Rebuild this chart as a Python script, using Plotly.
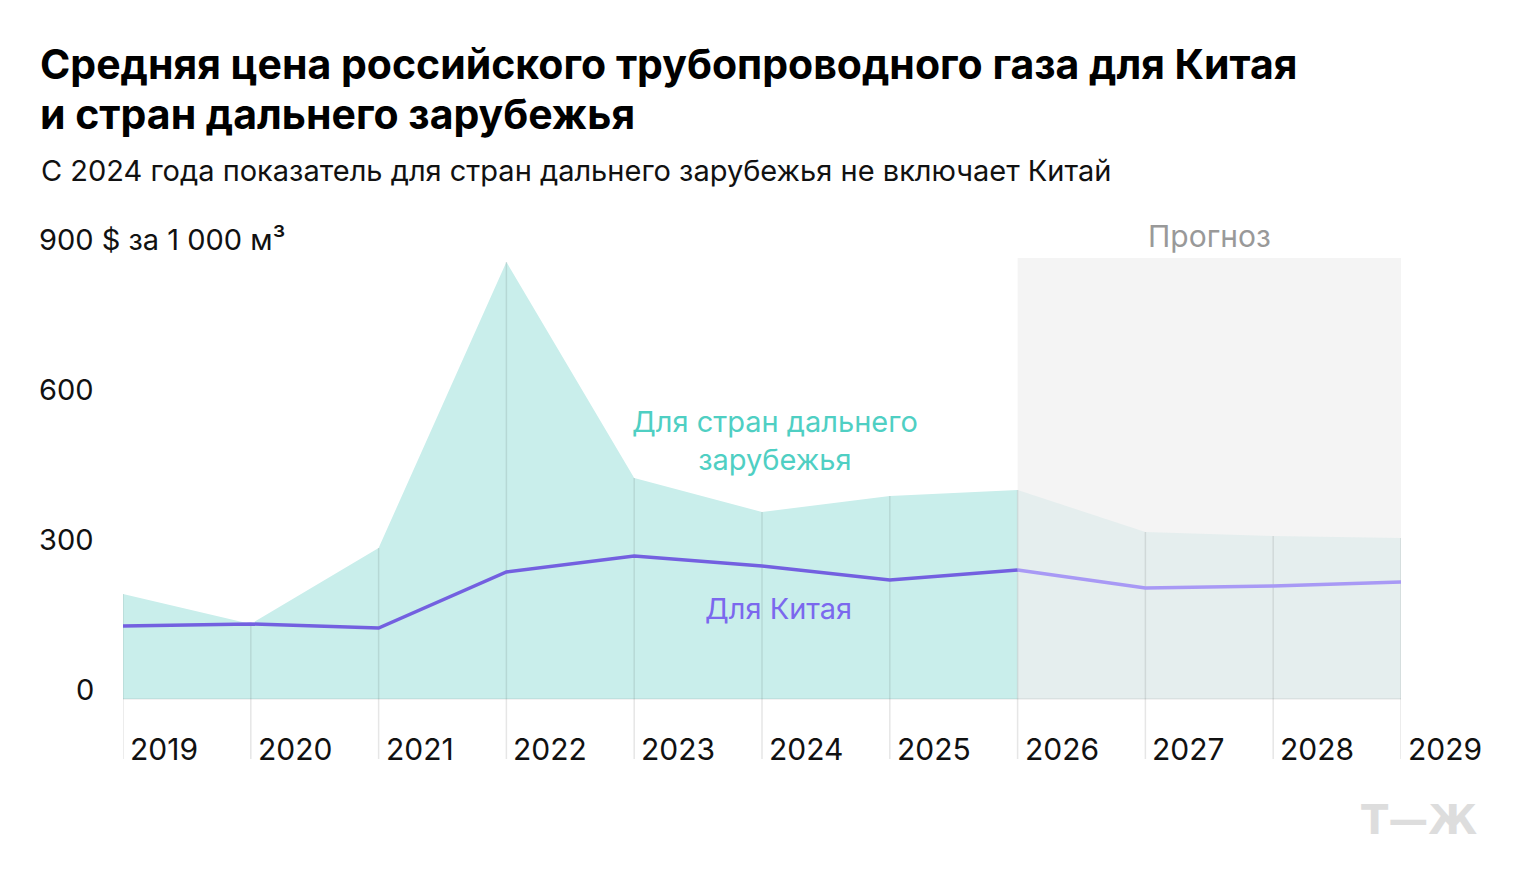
import plotly.graph_objects as go

years = [2019, 2020, 2021, 2022, 2023, 2024, 2025, 2026, 2027, 2028, 2029]
far_abroad = [210, 150, 302, 874, 442, 374, 406, 418, 334, 326, 322]
china = [146, 150, 142, 254, 286, 266, 238, 258, 222, 226, 234]
forecast_start = 2026
y_ticks = [0, 300, 600, 900]
y_tick_labels = ["0", "300", "600", "900 $ за 1 000 м³"]

FONT = "Inter"
TEAL_FILL = "#c9eeeb"
FC_FILL = "#e5eeee"
FC_BOX = "#f4f4f4"
PURPLE = "#7360e0"
PURPLE_FC = "#a899f5"

Y_MIN = -120
FC_TOP = 882

fig = go.Figure()

# forecast background box
fig.add_shape(type="rect", xref="x", yref="y", x0=forecast_start, x1=years[-1],
              y0=0, y1=FC_TOP, fillcolor=FC_BOX, line_width=0, layer="below")

i0 = years.index(forecast_start)
# actual area
fig.add_trace(go.Scatter(x=years[:i0 + 1], y=far_abroad[:i0 + 1], mode="lines",
                         line=dict(width=0, color=TEAL_FILL), fill="tozeroy",
                         fillcolor=TEAL_FILL, hoverinfo="skip", showlegend=False))
# forecast area
fig.add_trace(go.Scatter(x=years[i0:], y=far_abroad[i0:], mode="lines",
                         line=dict(width=0, color=FC_FILL), fill="tozeroy",
                         fillcolor=FC_FILL, hoverinfo="skip", showlegend=False))

# vertical year lines: inside area
vx, vy = [], []
for x, v in zip(years, far_abroad):
    vx += [x, x, None]
    vy += [v, 0, None]
fig.add_trace(go.Scatter(x=vx, y=vy, mode="lines",
                         line=dict(width=1.5, color="rgba(0,0,0,0.09)"),
                         hoverinfo="skip", showlegend=False))
# below axis
bx, by = [], []
for x in years:
    bx += [x, x, None]
    by += [0, Y_MIN, None]
fig.add_trace(go.Scatter(x=bx, y=by, mode="lines",
                         line=dict(width=1.5, color="#e6e6e6"),
                         hoverinfo="skip", showlegend=False))
# baseline
fig.add_trace(go.Scatter(x=[years[0], years[-1]], y=[0, 0], mode="lines",
                         line=dict(width=1.5, color="rgba(0,0,0,0.07)"),
                         hoverinfo="skip", showlegend=False))

# China lines
fig.add_trace(go.Scatter(x=years[i0:], y=china[i0:], mode="lines",
                         line=dict(width=3.5, color=PURPLE_FC),
                         hoverinfo="skip", showlegend=False))
fig.add_trace(go.Scatter(x=years[:i0 + 1], y=china[:i0 + 1], mode="lines",
                         line=dict(width=3.5, color=PURPLE),
                         hoverinfo="skip", showlegend=False))

ann = []
# year labels
for x in years:
    ann.append(dict(x=x, y=-100, xref="x", yref="y", text=str(x), showarrow=False,
                    xanchor="left", yanchor="middle", xshift=5,
                    font=dict(family=FONT, size=30, color="#111")))
# y labels
for v, t in zip(y_ticks, y_tick_labels):
    ann.append(dict(x=0, y=v, xref="paper", yref="y", text=t, showarrow=False,
                    xanchor="right" if v != 900 else "left",
                    xshift=-27 if v != 900 else -86,
                    yanchor="middle", yshift=10,
                    font=dict(family=FONT, size=29, color="#111")))

W, H = 1278, 510
def px_x(p):
    return (p - 123) / W
def px_y(p):
    return (759 - p) / H

ann.append(dict(x=px_x(38), y=px_y(64), xref="paper", yref="paper", showarrow=False,
                xanchor="left", yanchor="middle",
                text="<b>Средняя цена российского трубопроводного газа для Китая</b>",
                font=dict(family=FONT, size=41, color="#000")))
ann.append(dict(x=px_x(38), y=px_y(114), xref="paper", yref="paper", showarrow=False,
                xanchor="left", yanchor="middle",
                text="<b>и стран дальнего зарубежья</b>",
                font=dict(family=FONT, size=41, color="#000")))
ann.append(dict(x=px_x(39), y=px_y(170), xref="paper", yref="paper", showarrow=False,
                xanchor="left", yanchor="middle",
                text="С 2024 года показатель для стран дальнего зарубежья не включает Китай",
                font=dict(family=FONT, size=29, color="#111")))
ann.append(dict(x=(forecast_start + years[-1]) / 2, y=FC_TOP, xref="x", yref="y",
                showarrow=False, xanchor="center", yanchor="bottom", yshift=2, text="Прогноз",
                font=dict(family=FONT, size=30, color="#999")))
ann.append(dict(x=px_x(775), y=px_y(440), xref="paper", yref="paper", showarrow=False,
                xanchor="center", yanchor="middle",
                text="Для стран дальнего<br>зарубежья", align="center",
                font=dict(family=FONT, size=29, color="#4fcfc3")))
ann.append(dict(x=px_x(778), y=px_y(608), xref="paper", yref="paper", showarrow=False,
                xanchor="center", yanchor="middle",
                text="Для Китая",
                font=dict(family=FONT, size=29, color="#7b68ee")))
ann.append(dict(x=px_x(1419), y=px_y(820), xref="paper", yref="paper", showarrow=False,
                xanchor="center", yanchor="middle",
                text="<b>Т—Ж</b>",
                font=dict(family="DejaVu Sans", size=40, color="#dddddd")))

fig.update_layout(
    width=1520, height=890,
    margin=dict(l=123, r=119, t=249, b=131),
    paper_bgcolor="white", plot_bgcolor="white",
    xaxis=dict(range=[years[0], years[-1]], visible=False, fixedrange=True),
    yaxis=dict(range=[Y_MIN, 900], visible=False, fixedrange=True),
    annotations=ann,
    showlegend=False,
)

fig.write_html("out.html", config={"displayModeBar": False})
